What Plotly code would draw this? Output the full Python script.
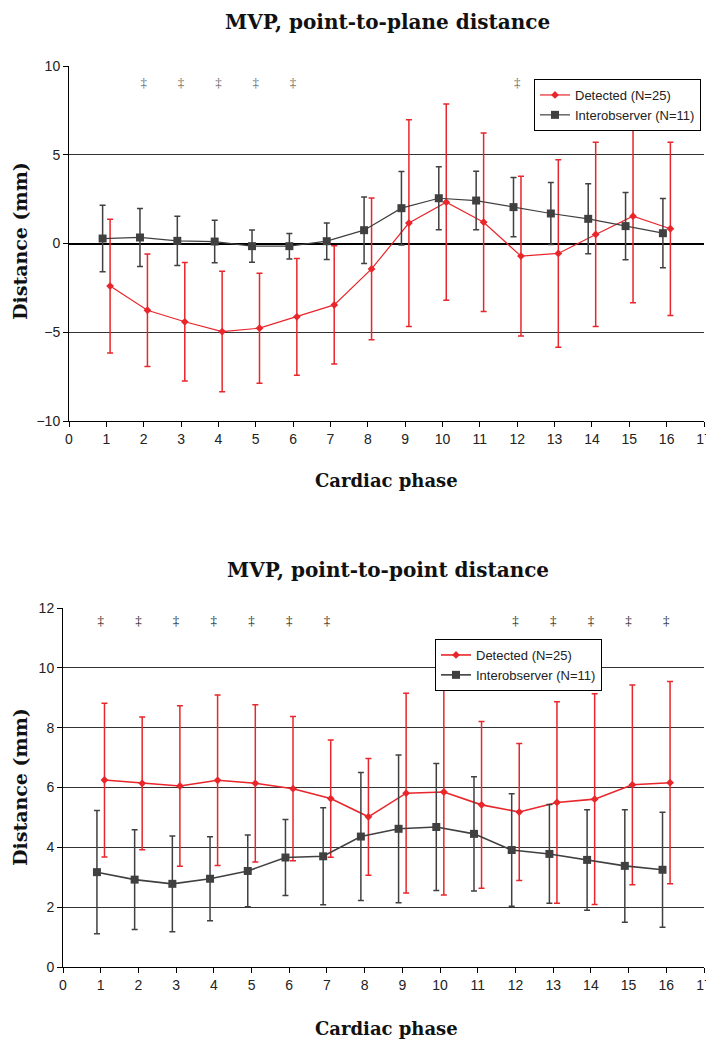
import plotly.graph_objects as go

# ---------------- data ----------------
phases = list(range(1, 17))

# Top chart: point-to-plane distance (mm)
plane_det_mean = [-2.40, -3.76, -4.41, -4.96, -4.77, -4.13, -3.46, -1.43,
                  1.15, 2.33, 1.20, -0.71, -0.56, 0.51, 1.54, 0.83]
plane_det_sd = [3.77, 3.17, 3.34, 3.39, 3.10, 3.29, 3.33, 3.99,
                5.82, 5.53, 5.03, 4.50, 5.28, 5.19, 4.88, 4.88]
plane_int_mean = [0.28, 0.34, 0.15, 0.11, -0.15, -0.15, 0.13, 0.75,
                  1.99, 2.55, 2.42, 2.05, 1.69, 1.39, 0.98, 0.58]
plane_int_sd = [1.87, 1.63, 1.39, 1.20, 0.91, 0.72, 1.03, 1.87,
                2.07, 1.78, 1.65, 1.67, 1.74, 1.97, 1.89, 1.95]
plane_sig_phases = [2, 3, 4, 5, 6, 12]
plane_sig_level = 9.0

# Bottom chart: point-to-point distance (mm)
point_det_mean = [6.25, 6.14, 6.05, 6.24, 6.14, 5.96, 5.63, 5.02,
                  5.81, 5.85, 5.42, 5.18, 5.50, 5.61, 6.09, 6.16]
point_det_sd = [2.57, 2.22, 2.68, 2.85, 2.63, 2.41, 1.96, 1.95,
                3.34, 3.44, 2.79, 2.29, 3.37, 3.52, 3.34, 3.38]
point_int_mean = [3.17, 2.92, 2.78, 2.95, 3.21, 3.66, 3.70, 4.36,
                  4.62, 4.68, 4.45, 3.91, 3.78, 3.58, 3.38, 3.25]
point_int_sd = [2.06, 1.67, 1.60, 1.40, 1.20, 1.27, 1.62, 2.14,
                2.47, 2.12, 1.91, 1.88, 1.65, 1.68, 1.88, 1.92]
point_sig_phases = [1, 2, 3, 4, 5, 6, 7, 12, 13, 14, 15, 16]
point_sig_level = 11.55

det_name = "Detected (N=25)"
int_name = "Interobserver (N=11)"
titles = ["MVP, point-to-plane distance", "MVP, point-to-point distance"]
x_title = "Cardiac phase"
y_title = "Distance (mm)"

# ---------------- style ----------------
RED = "#e8262b"
GREY = "#404040"
SERIF = "DejaVu Serif, Liberation Serif, serif"
SANS = "Liberation Sans Narrow, Arial Narrow, Liberation Sans, Arial, sans-serif"
PAGE = 8                      # default body margin of the page
W, H = 714 - PAGE, 1043 - PAGE
OFF = 0.1


def fx(px):
    return (px - PAGE) / W


def fy(py):
    return 1 - (py - PAGE) / H


fig = go.Figure()


def add_chart(xa, ya, legend, det_m, det_sd, int_m, int_sd, sig_x, sig_y,
              sig_color, lw):
    fig.add_trace(go.Scatter(
        x=[p + OFF for p in phases], y=det_m, name=det_name,
        mode="lines+markers", xaxis=xa, yaxis=ya, legend=legend,
        line=dict(color=RED, width=lw),
        marker=dict(symbol="diamond", size=6, color=RED),
        error_y=dict(type="data", array=det_sd, visible=True, color=RED,
                     thickness=1.5, width=3),
    ))
    fig.add_trace(go.Scatter(
        x=[p - OFF for p in phases], y=int_m, name=int_name,
        mode="lines+markers", xaxis=xa, yaxis=ya, legend=legend,
        line=dict(color=GREY, width=lw),
        marker=dict(symbol="square", size=8, color=GREY),
        error_y=dict(type="data", array=int_sd, visible=True, color=GREY,
                     thickness=1.5, width=3),
    ))
    fig.add_trace(go.Scatter(
        x=sig_x, y=[sig_y] * len(sig_x), mode="text", text=["‡"] * len(sig_x),
        textfont=dict(family="Liberation Serif, serif", size=13,
                      color=sig_color),
        xaxis=xa, yaxis=ya, showlegend=False, hoverinfo="skip",
    ))


add_chart("x", "y", "legend", plane_det_mean, plane_det_sd, plane_int_mean,
          plane_int_sd, plane_sig_phases, plane_sig_level, "#666666", 1.2)
add_chart("x2", "y2", "legend2", point_det_mean, point_det_sd, point_int_mean,
          point_int_sd, point_sig_phases, point_sig_level, "#222222", 1.6)

xcommon = dict(range=[0, 17], tick0=0, dtick=1, ticks="outside", ticklen=5,
               tickcolor="#000", showline=True, linecolor="#000", linewidth=1,
               showgrid=False, zeroline=False, automargin=False,
               tickfont=dict(family=SANS, size=14, color="#222"))
ycommon = dict(ticks="outside", ticklen=5, tickcolor="#000", showline=True,
               linecolor="#000", linewidth=1, showgrid=True,
               gridcolor="#333", gridwidth=1, automargin=False,
               tickfont=dict(family=SANS, size=14, color="#222"))

legend_style = dict(xanchor="left", yanchor="top", bgcolor="white",
                    bordercolor="#000", borderwidth=1,
                    font=dict(family="Liberation Sans, Arial, sans-serif",
                              size=13, color="#222"),
                    itemwidth=30, tracegroupgap=0)

fig.update_layout(
    width=W, height=H, paper_bgcolor="white", plot_bgcolor="white",
    margin=dict(l=0, r=0, t=0, b=0, autoexpand=False), showlegend=True,
    xaxis=dict(domain=[fx(69), fx(704)], anchor="y", **xcommon),
    yaxis=dict(domain=[fy(421), fy(66)], anchor="x", range=[-10, 10],
               tick0=0, dtick=5, zeroline=True, zerolinecolor="#000",
               zerolinewidth=2, **ycommon),
    xaxis2=dict(domain=[fx(63), fx(704)], anchor="y2", **xcommon),
    yaxis2=dict(domain=[fy(967), fy(608)], anchor="x2", range=[0, 12],
                tick0=0, dtick=2, zeroline=False, **ycommon),
    legend=dict(x=fx(534), y=fy(79), **legend_style),
    legend2=dict(x=fx(435), y=fy(639), **legend_style),
)

ann = []
for t, yc in zip(titles, [22, 570]):
    ann.append(dict(text=f"<b>{t}</b>", x=fx(388), y=fy(yc), xref="paper",
                    yref="paper", showarrow=False, xanchor="center",
                    yanchor="middle",
                    font=dict(family=SERIF, size=20, color="#111")))
for yc in [480, 1028]:
    ann.append(dict(text=f"<b>{x_title}</b>", x=fx(386), y=fy(yc),
                    xref="paper", yref="paper", showarrow=False,
                    xanchor="center", yanchor="middle",
                    font=dict(family=SERIF, size=18, color="#111")))
for yc in [241, 787]:
    ann.append(dict(text=f"<b>{y_title}</b>", x=fx(20), y=fy(yc),
                    xref="paper", yref="paper", showarrow=False, textangle=-90,
                    xanchor="center", yanchor="middle",
                    font=dict(family=SERIF, size=19, color="#111")))
fig.update_layout(annotations=ann)

fig.write_html("out.html")
